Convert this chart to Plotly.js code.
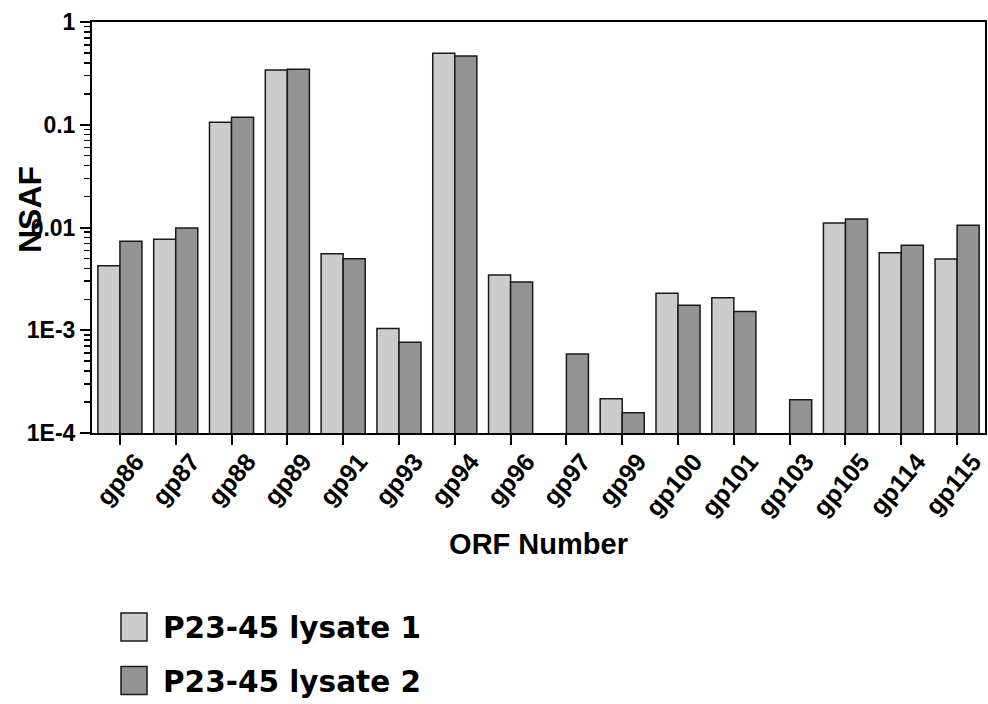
<!DOCTYPE html>
<html>
<head>
<meta charset="utf-8">
<script src="https://cdn.plot.ly/plotly-3.0.1.min.js"></script>
<style>html,body{margin:0;padding:0;background:#fff;}#chart{width:988px;height:704px;}</style>
</head>
<body>
<div id="chart"></div>
<script>
const categories = ["gp86","gp87","gp88","gp89","gp91","gp93","gp94","gp96","gp97","gp99","gp100","gp101","gp103","gp105","gp114","gp115"];
const lysate1 = [0.00425,0.00767,0.106,0.341,0.00556,0.00104,0.496,0.00345,null,0.000216,0.00229,0.00207,null,0.01106,0.00569,0.00493];
const lysate2 = [0.00734,0.00989,0.118,0.346,0.00497,0.000763,0.467,0.00295,0.000587,0.000157,0.00175,0.00152,0.000211,0.0121,0.00671,0.0105];
const seriesNames = ["P23-45 lysate 1","P23-45 lysate 2"];
const yTickVals = [1e-4,1e-3,1e-2,1e-1,1];
const yTickText = ["1E-4","1E-3","0.01","0.1","1"];
const colors = ["#cccccc","#939393"];

const minorVals = [];
for (let e = -4; e < 0; e++) for (let m = 2; m <= 9; m++) minorVals.push(m * Math.pow(10, e));

const traces = [lysate1, lysate2].map((vals, i) => ({
  type: "bar", x: categories, y: vals, name: seriesNames[i],
  marker: {color: colors[i], line: {color: "#1a1a1a", width: 1.5}},
  showlegend: false
}));

const plotW = 988 - 92 - 3, plotH = 704 - 22 - 271;
const px = x => (x - 92) / plotW;
const py = y => (704 - 271 - y) / plotH;

const layout = {
  width: 988, height: 704,
  margin: {l: 92, r: 3, t: 22, b: 271},
  paper_bgcolor: "#fff", plot_bgcolor: "#fff",
  barmode: "group", bargap: 0.21, bargroupgap: 0,
  font: {family: "Liberation Sans, Arial, sans-serif", color: "#000"},
  xaxis: {
    type: "category", showline: true, mirror: true, linewidth: 2, linecolor: "#000",
    ticks: "outside", ticklen: 10, tickwidth: 2, tickcolor: "#000",
    tickangle: -50, ticklabelshift: 16, ticklabelstandoff: -8,
    tickfont: {size: 25, family: "Liberation Sans, Arial", weight: "bold"},
    title: {text: "<b>ORF Number</b>", font: {size: 29, family: "Liberation Sans, Arial"}, standoff: 14},
    automargin: false, showgrid: false
  },
  yaxis: {
    type: "log", range: [-4, 0], showline: true, mirror: true, linewidth: 2, linecolor: "#000",
    tickmode: "array", tickvals: yTickVals, ticktext: yTickText,
    ticks: "outside", ticklen: 10, tickwidth: 2, tickcolor: "#000",
    tickfont: {size: 23, family: "Liberation Sans, Arial", weight: "bold"},
    minor: {tickmode: "array", tickvals: minorVals, ticks: "outside", ticklen: 6, tickwidth: 1.5, tickcolor: "#000", showgrid: false},
    showgrid: false, zeroline: false, automargin: false
  },
  shapes: [],
  annotations: [
    {xref: "paper", yref: "paper", x: px(30), y: py(210), xanchor: "center", yanchor: "middle",
     textangle: -90, showarrow: false, text: "<b>NSAF</b>",
     font: {family: "Liberation Sans, Arial", size: 32, color: "#000"}}
  ]
};

const legendY = [627, 680.5];
seriesNames.forEach((n, i) => {
  layout.shapes.push({type: "rect", xref: "paper", yref: "paper",
    x0: px(121), x1: px(147), y0: py(legendY[i] - 14), y1: py(legendY[i] + 14),
    fillcolor: colors[i], line: {color: "#1a1a1a", width: 1.5}});
  layout.annotations.push({xref: "paper", yref: "paper", x: px(161), y: py(legendY[i] + 1),
    xanchor: "left", yanchor: "middle", showarrow: false, text: "<b>" + n + "</b>",
    font: {family: "DejaVu Sans", size: 29.5, color: "#000"}});
});

Plotly.newPlot("chart", traces, layout, {displayModeBar: false, staticPlot: true});
</script>
</body>
</html>
